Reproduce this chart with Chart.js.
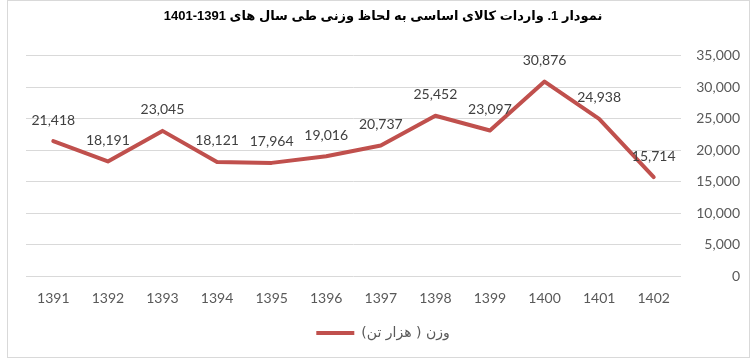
<!DOCTYPE html>
<html lang="fa">
<head>
<meta charset="utf-8">
<title>نمودار 1</title>
<script src="https://cdn.jsdelivr.net/npm/chart.js@4.4.1/dist/chart.umd.min.js"></script>
<style>
  html, body { margin: 0; padding: 0; background: #fff; }
  .wrap { position: relative; width: 755px; height: 363px; }
  .frame { position: absolute; left: 7px; top: 0; width: 743px; height: 358px; border: 1px solid #d9d9d9; box-sizing: border-box; }
  .wrap canvas { position: absolute; left: 0; top: 0; }
</style>
</head>
<body>
<div class="wrap">
  <div class="frame"></div>
  <canvas id="chart-vardat" width="755" height="363"></canvas>
</div>
<script>
/* ---- Datos ---- */
const years = ['1391','1392','1393','1394','1395','1396','1397','1398','1399','1400','1401','1402'];
const weight = [21418, 18191, 23045, 18121, 17964, 19016, 20737, 25452, 23097, 30876, 24938, 15714];
const yTicks = [0, 5000, 10000, 15000, 20000, 25000, 30000, 35000];
const titleText = 'نمودار 1. واردات کالای اساسی به لحاظ وزنی طی سال های 1391-1401';
const seriesName = 'وزن ( هزار تن)';

const fmt = v => v.toLocaleString('en-US');

document.addEventListener('DOMContentLoaded', () => {
  /* ---- Etiquetas de valores ---- */
  const valueLabels = {
    id: 'valueLabels',
    afterDatasetsDraw(chart) {
      const ctx = chart.ctx;
      const meta = chart.getDatasetMeta(0);
      ctx.save();
      ctx.font = "14px Lato, 'Open Sans', sans-serif";
      ctx.fillStyle = '#404040';
      ctx.textAlign = 'center';
      ctx.textBaseline = 'middle';
      meta.data.forEach((pt, i) => {
        ctx.fillText(fmt(weight[i]), pt.x, pt.y - 21);
      });
      ctx.restore();
    }
  };

  new Chart(document.getElementById('chart-vardat'), {
    type: 'line',
    data: {
      labels: years,
      datasets: [{
        label: seriesName,
        data: weight,
        borderColor: '#c0504d',
        backgroundColor: '#c0504d',
        borderWidth: 4, tension: 0, pointRadius: 0,
        borderJoinStyle: 'round', borderCapStyle: 'round',
      }]
    },
    options: {
      responsive: false, animation: false,
      layout: { padding: { left: 26, right: 15, top: 0, bottom: 13 } },
      plugins: {
        title: {
          display: true, text: titleText, color: '#000',
          font: { family: "'Liberation Sans', 'DejaVu Sans', sans-serif", size: 13, weight: 'bold' },
          padding: { top: 9, bottom: 31 }
        },
        legend: {
          position: 'bottom', textDirection: 'rtl',
          labels: {
            color: '#595959', usePointStyle: true, pointStyle: 'line', pointStyleWidth: 38,
            font: { family: "'DejaVu Sans', sans-serif", size: 14 }, padding: 10
          }
        },
        tooltip: { enabled: false }
      },
      scales: {
        x: {
          offset: true,
          grid: { display: false, drawTicks: false },
          border: { display: false },
          ticks: { color: '#595959', font: { family: "Lato, sans-serif", size: 14 }, padding: 14 },
          afterFit: s => { s.height = 40; }
        },
        y: {
          position: 'right', min: 0, max: 35000,
          grid: { color: '#d9d9d9', drawTicks: false },
          border: { display: false },
          afterBuildTicks: s => { s.ticks = yTicks.map(v => ({ value: v })); },
          ticks: {
            color: '#595959', crossAlign: 'far', padding: 8,
            font: { family: "Lato, sans-serif", size: 14 },
            callback: v => fmt(v)
          },
          afterFit: s => { s.width = 59; }
        }
      }
    },
    plugins: [valueLabels]
  });
});
</script>
</body>
</html>
